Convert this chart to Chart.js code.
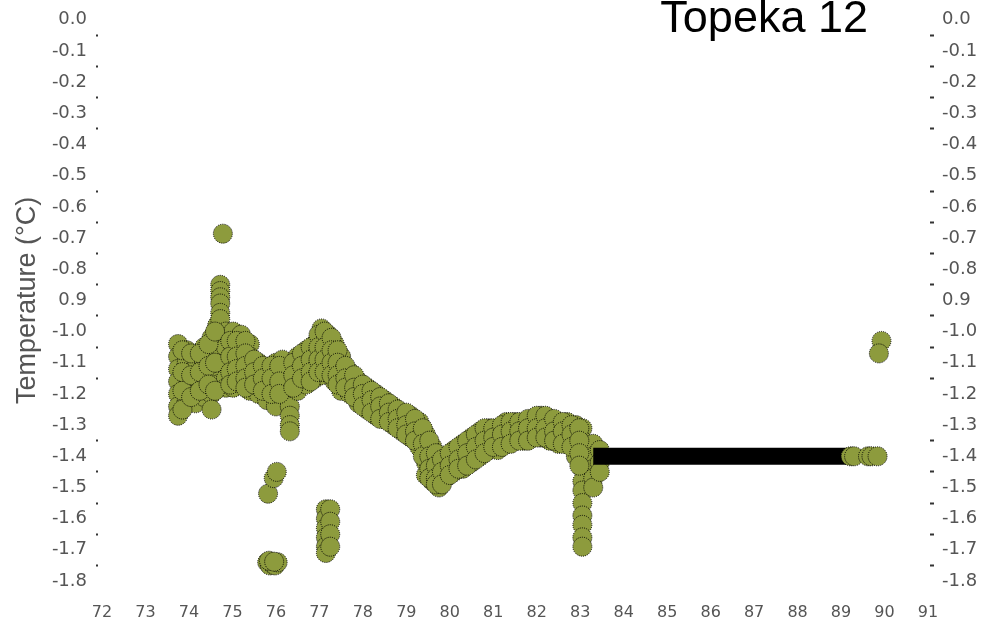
<!DOCTYPE html>
<html>
<head>
<meta charset="utf-8">
<script src="https://cdn.jsdelivr.net/npm/chart.js@4/dist/chart.umd.min.js"></script>
<style>
  html, body { margin: 0; padding: 0; background: #ffffff; }
  #wrap { width: 984px; height: 622px; position: relative; }
</style>
</head>
<body>
<div id="wrap"><canvas id="c" width="984" height="622"></canvas></div>
<script>
// ---- data ----
const chartTitle = 'Topeka 12';
const yAxisTitle = 'Temperature (°C)';
const yTickLabels = ['0.0','-0.1','-0.2','-0.3','-0.4','-0.5','-0.6','-0.7','-0.8','0.9',
                     '-1.0','-1.1','-1.2','-1.3','-1.4','-1.5','-1.6','-1.7','-1.8'];
// tick values whose small marks are absent in the reference
const hiddenTickMarks = [-0.4, -1.2];

// green sample points (x = year, y = temperature)
const mainX = [
  73.75,73.75,73.75,73.75,73.75,73.75,73.75,
  73.95,73.95,73.95,73.95,73.95,
  74.15,74.15,74.15,74.15,74.15,
  74.35,74.35,74.35,74.35,74.35,
  74.52,74.52,74.52,74.52,74.52,74.52,
  74.65,74.65,74.65,74.65,74.65,
  74.72,74.72,74.72,74.72,74.72,74.72,
  74.78,
  74.85,74.85,74.85,74.85,74.85,
  75.02,75.02,75.02,75.02,75.02,
  75.2,75.2,75.2,75.2,75.2,
  75.4,75.4,75.4,75.4,75.4,
  75.6,75.6,75.6,75.6,
  75.8,75.8,75.8,75.8,
  76.0,76.0,76.0,76.0,76.0,
  76.15,76.15,76.15,
  76.32,76.32,76.32,76.32,76.32,76.32,76.32,
  76.5,76.5,76.5,76.5,
  76.7,76.7,76.7,76.7,
  76.9,76.9,76.9,76.9,
  77.05,77.05,77.05,77.05,77.05,
  77.2,77.2,77.2,77.2,
  77.35,77.35,77.35,77.35,
  75.82,75.95,76.02,
  75.8,75.86,75.92,75.98,76.04,75.84,75.96,
  77.15,77.15,77.15,77.15,77.15,77.15,
  77.25,77.25,77.25,77.25,
  77.5,77.5,77.5,77.5,
  77.7,77.7,77.7,
  77.9,77.9,77.9,
  78.1,78.1,78.1,
  78.3,78.3,78.3,
  78.5,78.5,78.5,
  78.7,78.7,78.7,
  78.9,78.9,78.9,
  79.1,79.1,79.1,
  79.3,79.3,79.3,
  79.45,79.45,79.45,79.45,
  79.6,79.6,79.6,79.6,
  79.75,79.75,79.75,79.75,
  79.9,79.9,79.9,
  80.1,80.1,80.1,
  80.3,80.3,80.3,
  80.5,80.5,80.5,
  80.7,80.7,80.7,
  80.9,80.9,80.9,
  81.1,81.1,81.1,
  81.3,81.3,81.3,
  81.5,81.5,81.5,
  81.7,81.7,81.7,
  81.9,81.9,81.9,
  82.1,82.1,82.1,
  82.3,82.3,82.3,
  82.5,82.5,82.5,
  82.7,82.7,82.7,
  82.9,82.9,82.9,82.9,
  83.05,83.05,83.05,83.05,83.05,83.05,83.05,83.05,83.05,83.05,83.05,
  83.3,83.3,83.3,83.3,83.3,
  83.45,83.45,83.45
];
const mainY = [
  -1.04,-1.08,-1.12,-1.16,-1.20,-1.24,-1.27,
  -1.06,-1.10,-1.14,-1.18,-1.22,
  -1.08,-1.12,-1.16,-1.20,-1.23,
  -1.05,-1.10,-1.14,-1.18,-1.21,
  -1.02,-1.07,-1.12,-1.16,-1.20,-1.25,
  -0.98,-1.03,-1.08,-1.13,-1.17,
  -0.85,-0.87,-0.89,-0.91,-0.94,-0.96,
  -0.686,
  -1.00,-1.05,-1.10,-1.15,-1.18,
  -1.00,-1.05,-1.10,-1.14,-1.18,
  -1.01,-1.05,-1.09,-1.13,-1.16,
  -1.04,-1.08,-1.12,-1.16,-1.19,
  -1.10,-1.14,-1.17,-1.20,
  -1.12,-1.16,-1.19,-1.22,
  -1.10,-1.14,-1.18,-1.21,-1.24,
  -1.09,-1.13,-1.17,
  -1.12,-1.16,-1.20,-1.24,-1.27,-1.30,-1.32,
  -1.08,-1.12,-1.16,-1.19,
  -1.06,-1.10,-1.14,-1.17,
  -1.04,-1.08,-1.12,-1.15,
  -0.99,-1.02,-1.06,-1.10,-1.14,
  -1.01,-1.04,-1.08,-1.12,
  -1.04,-1.08,-1.12,-1.16,
  -1.52,-1.47,-1.45,
  -1.74,-1.75,-1.745,-1.75,-1.74,-1.735,-1.738,
  -1.57,-1.60,-1.63,-1.66,-1.69,-1.71,
  -1.57,-1.61,-1.65,-1.69,
  -1.08,-1.12,-1.16,-1.19,
  -1.13,-1.16,-1.20,
  -1.16,-1.19,-1.23,
  -1.18,-1.21,-1.25,
  -1.20,-1.23,-1.27,
  -1.22,-1.25,-1.28,
  -1.24,-1.27,-1.30,
  -1.26,-1.29,-1.32,
  -1.27,-1.30,-1.34,
  -1.29,-1.33,-1.37,
  -1.33,-1.38,-1.42,-1.46,
  -1.37,-1.41,-1.45,-1.48,
  -1.40,-1.44,-1.48,-1.50,
  -1.40,-1.44,-1.47,
  -1.38,-1.42,-1.45,
  -1.36,-1.40,-1.44,
  -1.34,-1.38,-1.42,
  -1.32,-1.36,-1.40,
  -1.31,-1.34,-1.38,
  -1.31,-1.34,-1.38,
  -1.29,-1.33,-1.36,
  -1.29,-1.32,-1.35,
  -1.29,-1.32,-1.35,
  -1.28,-1.31,-1.34,
  -1.27,-1.30,-1.34,
  -1.28,-1.31,-1.35,
  -1.29,-1.32,-1.36,
  -1.29,-1.32,-1.36,
  -1.30,-1.33,-1.37,-1.40,
  -1.31,-1.35,-1.39,-1.44,-1.48,-1.51,-1.55,-1.59,-1.62,-1.66,-1.69,
  -1.36,-1.40,-1.44,-1.47,-1.50,
  -1.38,-1.42,-1.45
];

// more green readings lying between the columns above
const denseX = [
  73.85,73.85,73.85,73.85,
  74.05,74.05,74.05,
  74.25,74.25,74.25,
  74.45,74.45,74.45,
  74.6,74.6,74.6,
  74.95,74.95,74.95,74.95,
  75.1,75.1,75.1,75.1,
  75.3,75.3,75.3,75.3,75.3,
  75.5,75.5,75.5,
  75.7,75.7,75.7,
  75.9,75.9,75.9,
  76.08,76.08,76.08,
  76.4,76.4,76.4,
  76.6,76.6,76.6,
  76.8,76.8,76.8,76.8,
  76.98,76.98,76.98,76.98,
  77.12,77.12,77.12,77.12,
  77.28,77.28,77.28,77.28,
  77.42,77.42,77.42,77.42,
  77.6,77.6,77.6,
  77.8,77.8,77.8,
  78.0,78.0,78.0,
  78.2,78.2,78.2,
  78.4,78.4,78.4,
  78.6,78.6,78.6,
  78.8,78.8,78.8,
  79.0,79.0,79.0,
  79.2,79.2,79.2,
  79.38,79.38,79.38,
  79.53,79.53,79.53,79.53,
  79.68,79.68,79.68,79.68,
  79.82,79.82,79.82,
  80.0,80.0,80.0,
  80.2,80.2,80.2,
  80.4,80.4,80.4,
  80.6,80.6,80.6,
  80.8,80.8,80.8,
  81.0,81.0,81.0,
  81.2,81.2,81.2,
  81.4,81.4,81.4,
  81.6,81.6,81.6,
  81.8,81.8,81.8,
  82.0,82.0,82.0,
  82.2,82.2,82.2,
  82.4,82.4,82.4,
  82.6,82.6,82.6,
  82.8,82.8,82.8,
  82.98,82.98,82.98,82.98
];
const denseY = [
  -1.06,-1.13,-1.19,-1.25,
  -1.07,-1.14,-1.21,
  -1.07,-1.13,-1.19,
  -1.04,-1.11,-1.17,
  -1.00,-1.10,-1.19,
  -1.03,-1.08,-1.13,-1.17,
  -1.03,-1.08,-1.12,-1.16,
  -1.03,-1.07,-1.11,-1.15,-1.18,
  -1.09,-1.13,-1.17,
  -1.11,-1.15,-1.19,
  -1.11,-1.15,-1.20,
  -1.11,-1.16,-1.20,
  -1.10,-1.14,-1.18,
  -1.07,-1.11,-1.15,
  -1.05,-1.09,-1.13,-1.16,
  -1.01,-1.05,-1.09,-1.13,
  -1.00,-1.05,-1.09,-1.13,
  -1.02,-1.06,-1.10,-1.14,
  -1.06,-1.10,-1.14,-1.17,
  -1.11,-1.15,-1.18,
  -1.14,-1.18,-1.21,
  -1.17,-1.20,-1.24,
  -1.19,-1.22,-1.26,
  -1.21,-1.24,-1.28,
  -1.23,-1.26,-1.29,
  -1.25,-1.28,-1.31,
  -1.26,-1.30,-1.33,
  -1.28,-1.32,-1.35,
  -1.31,-1.36,-1.40,
  -1.35,-1.40,-1.44,-1.47,
  -1.39,-1.43,-1.47,-1.49,
  -1.41,-1.45,-1.49,
  -1.39,-1.43,-1.46,
  -1.37,-1.41,-1.44,
  -1.35,-1.39,-1.43,
  -1.33,-1.37,-1.41,
  -1.31,-1.35,-1.39,
  -1.31,-1.34,-1.37,
  -1.30,-1.33,-1.37,
  -1.29,-1.32,-1.36,
  -1.29,-1.32,-1.35,
  -1.28,-1.31,-1.35,
  -1.27,-1.31,-1.34,
  -1.27,-1.31,-1.34,
  -1.28,-1.32,-1.35,
  -1.29,-1.32,-1.36,
  -1.30,-1.33,-1.37,
  -1.31,-1.35,-1.39,-1.43
];

// flat (constant) stretch of readings, drawn black
const plateauX = [83.3, 89.2];
const plateauY = [-1.4, -1.4];

// last green readings at the right end
const endX = [89.22, 89.3, 89.62, 89.7, 89.84, 89.93, 89.87];
const endY = [-1.40, -1.40, -1.40, -1.40, -1.40, -1.03, -1.07];

// ---- build chart ----
const toPts = (xs, ys) => xs.map((x, i) => ({ x: x, y: ys[i] }));
const olive = '#8d9b3d';
const tickColor = '#555555';

const titlePlugin = {
  id: 'cornerTitle',
  afterDraw(chart) {
    const ctx = chart.ctx;
    ctx.save();
    ctx.font = '45px "Liberation Sans", Arial, sans-serif';
    ctx.fillStyle = '#000000';
    ctx.textAlign = 'right';
    ctx.textBaseline = 'alphabetic';
    ctx.fillText(chartTitle, 868, 32);
    ctx.restore();
  }
};

// dotted outlines on the round markers, as in the reference
const dottedMarkers = {
  id: 'dottedMarkers',
  beforeDatasetDraw(chart, args) {
    if (args.meta.type === 'scatter') chart.ctx.setLineDash([1, 1.2]);
  },
  afterDatasetDraw(chart) {
    chart.ctx.setLineDash([]);
  }
};

const markColor = (ctx) =>
  (ctx.tick && hiddenTickMarks.some(v => Math.abs(v - ctx.tick.value) < 1e-6)) ? 'rgba(0,0,0,0)' : '#333333';

new Chart(document.getElementById('c'), {
  type: 'scatter',
  data: {
    datasets: [
      {
        label: 'end',
        data: toPts(endX, endY),
        backgroundColor: olive,
        borderColor: '#000000',
        borderWidth: 1,
        pointRadius: 9.5,
        order: 1
      },
      {
        type: 'line',
        label: 'plateau',
        data: toPts(plateauX, plateauY),
        borderColor: '#000000',
        borderWidth: 17,
        borderCapStyle: 'butt',
        pointRadius: 0,
        fill: false,
        order: 2
      },
      {
        label: 'main',
        data: toPts(mainX.concat(denseX), mainY.concat(denseY)),
        backgroundColor: olive,
        borderColor: '#000000',
        borderWidth: 1,
        pointRadius: 9.5,
        order: 3
      }
    ]
  },
  options: {
    responsive: false,
    animation: false,
    layout: { padding: { top: 17, left: 0, right: 0, bottom: 0 } },
    plugins: {
      legend: { display: false },
      tooltip: { enabled: false },
      title: { display: false }
    },
    scales: {
      x: {
        type: 'linear',
        position: 'bottom',
        min: 72, max: 91,
        border: { display: false },
        grid: { display: false, drawTicks: false },
        ticks: {
          stepSize: 1,
          autoSkip: false,
          maxRotation: 0,
          padding: 22,
          color: tickColor,
          font: { family: '"DejaVu Sans", Verdana, sans-serif', size: 16 }
        },
        afterFit(scale) { scale.height = 41; }
      },
      y: {
        type: 'linear',
        position: 'left',
        min: -1.8, max: 0,
        border: { display: false },
        grid: {
          display: true,
          drawOnChartArea: false,
          drawTicks: true,
          offset: true,
          tickLength: 6,
          tickWidth: 2,
          tickBorderDash: [2, 10],
          tickColor: markColor
        },
        title: {
          display: true,
          text: yAxisTitle,
          color: tickColor,
          padding: { top: 11, bottom: 0 },
          font: { family: '"Liberation Sans", Arial, sans-serif', size: 27 }
        },
        ticks: {
          stepSize: 0.1,
          autoSkip: false,
          padding: 9,
          color: tickColor,
          font: { family: '"DejaVu Sans", Verdana, sans-serif', size: 18 },
          callback: (v) => yTickLabels[Math.round(-v * 10)]
        },
        afterFit(scale) { scale.width = 102; }
      },
      y2: {
        type: 'linear',
        position: 'right',
        min: -1.8, max: 0,
        border: { display: false },
        grid: {
          display: true,
          drawOnChartArea: false,
          drawTicks: true,
          offset: true,
          tickLength: 6,
          tickWidth: 2,
          tickBorderDash: [0, 2, 4, 10],
          tickColor: markColor
        },
        ticks: {
          stepSize: 0.1,
          autoSkip: false,
          padding: 8,
          color: tickColor,
          font: { family: '"DejaVu Sans", Verdana, sans-serif', size: 18 },
          callback: (v) => yTickLabels[Math.round(-v * 10)]
        },
        afterFit(scale) { scale.width = 56; }
      }
    }
  },
  plugins: [titlePlugin, dottedMarkers]
});
</script>
</body>
</html>
